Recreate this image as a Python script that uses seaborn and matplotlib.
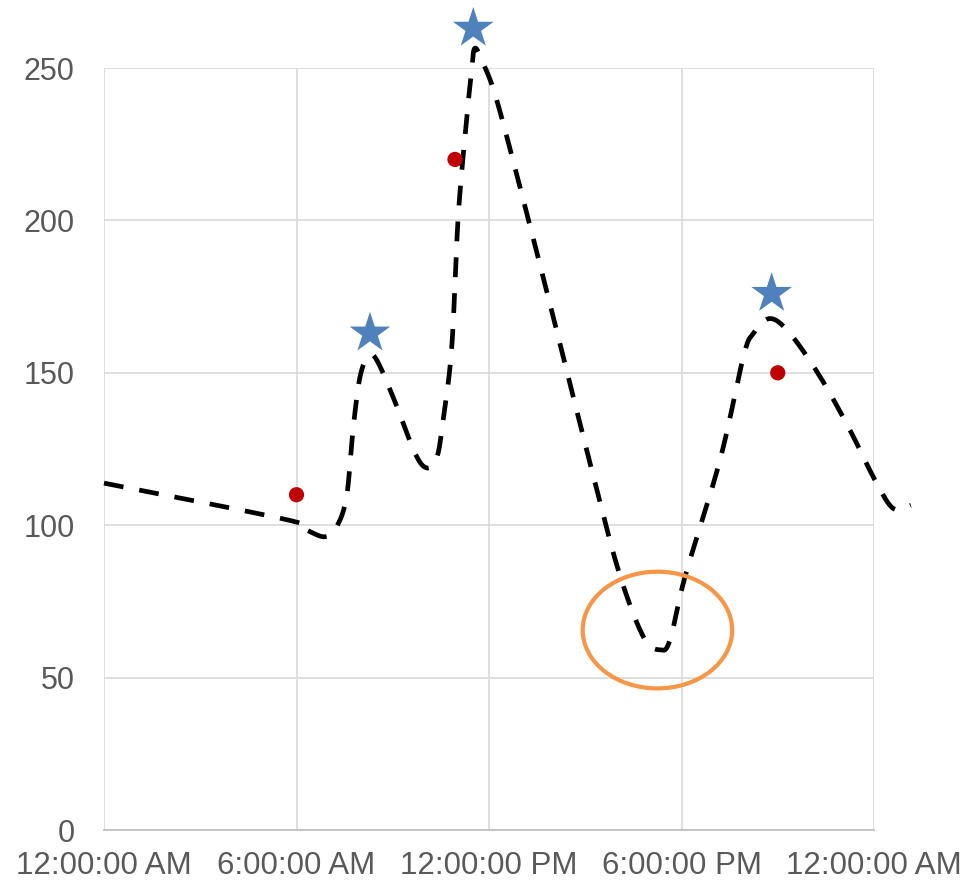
import numpy as np
import pandas as pd
import matplotlib
matplotlib.use("Agg")
import matplotlib.pyplot as plt
import seaborn as sns
from matplotlib.patches import Ellipse

# ---- data (hours since midnight, value) ----
curve_hours = [0, 5.74, 6.32, 6.89, 7.25, 7.56, 7.76, 7.98, 8.24, 8.5, 9.07, 9.69,
               10.06, 10.37, 10.57, 10.84, 11.04, 11.3, 11.46, 11.56, 11.82, 12.24,
               13.07, 14.0, 15.15, 16.03, 16.81, 17.33, 17.64, 18.11, 19.2, 19.93,
               20.24, 20.76, 21.38, 22.32, 23.25, 24.03, 24.6, 25.15]
curve_values = [113.8, 101.7, 98.4, 96.2, 99.5, 109.3, 131.2, 148.7, 155.3, 154.2, 140.5, 123.7,
                118.8, 122.0, 134.5, 158.6, 201.2, 232.9, 249.3, 256.5, 251.5, 239.5,
                206.7, 168.4, 120.3, 85.3, 63.4, 59.1, 62.3, 83.1, 121.4, 155.3,
                162.9, 167.8, 162.9, 148.7, 131.2, 114.8, 105.5, 106.5]

dot_hours = [6.0, 10.94, 21.0]
dot_values = [110, 220, 150]

star_hours = [8.29, 11.51, 20.81]
star_values = [163, 263, 176]

tick_hours = [0, 6, 12, 18, 24]
tick_labels = ["12:00:00 AM", "6:00:00 AM", "12:00:00 PM", "6:00:00 PM", "12:00:00 AM"]
y_ticks = [0, 50, 100, 150, 200, 250]

ellipse_center = (17.25, 65.6)
ellipse_size = (4.66, 38.3)


def smooth(xs, ys, n=30):
    """Excel-style smoothed line (Bezier through every point)."""
    P = np.column_stack([xs, ys]).astype(float)
    out = []
    m = len(P)
    for i in range(m - 1):
        p0 = P[i - 1] if i > 0 else P[i]
        p1 = P[i]
        p2 = P[i + 1]
        p3 = P[i + 2] if i + 2 < m else P[i + 1]
        c1 = p1 + (p2 - p0) / 6.0
        c2 = p2 - (p3 - p1) / 6.0
        t = np.linspace(0, 1, n)[:, None]
        seg = ((1 - t) ** 3) * p1 + 3 * ((1 - t) ** 2) * t * c1 + 3 * (1 - t) * t ** 2 * c2 + t ** 3 * p2
        if i > 0:
            seg = seg[1:]
        out.append(seg)
    return np.vstack(out)


sns.set_theme(style="whitegrid")
plt.rcParams["font.family"] = ["Liberation Sans", "DejaVu Sans"]

fig = plt.figure(figsize=(9.8, 8.82), dpi=100)
ax = fig.add_axes([104 / 980, 52 / 882, 770 / 980, 762 / 882])
ax.set_facecolor("white")

sm = smooth(curve_hours, curve_values)
curve_df = pd.DataFrame({"hour": sm[:, 0], "value": sm[:, 1]})
sns.lineplot(data=curve_df, x="hour", y="value", ax=ax, color="black", lw=3.4,
             sort=False, estimator=None, clip_on=False, zorder=3)
ax.lines[-1].set_linestyle((0, (4.2, 3.4)))
ax.lines[-1].set_dash_capstyle("butt")

dots_df = pd.DataFrame({"hour": dot_hours, "value": dot_values})
sns.scatterplot(data=dots_df, x="hour", y="value", ax=ax, color="#C00000", s=120,
                edgecolor="none", clip_on=False, zorder=4)

stars_df = pd.DataFrame({"hour": star_hours, "value": star_values})
sns.scatterplot(data=stars_df, x="hour", y="value", ax=ax, color="#4F81BD", marker="*",
                s=950, edgecolor="none", clip_on=False, zorder=4)

ax.add_patch(Ellipse(ellipse_center, ellipse_size[0], ellipse_size[1], fill=False,
                     edgecolor="#F79646", lw=3.0, zorder=5, clip_on=False))

ax.set_xlim(0, 24)
ax.set_ylim(0, 250)
ax.set_xticks(tick_hours)
ax.set_xticklabels(tick_labels)
ax.set_yticks(y_ticks)
ax.set_xlabel("")
ax.set_ylabel("")
ax.grid(True, color="#D9D9D9", lw=1.2)
ax.tick_params(axis="both", colors="#595959", length=0)
ax.tick_params(axis="x", labelsize=22.5, pad=15)
ax.tick_params(axis="y", labelsize=22, pad=21)
for side in ["top", "right", "left"]:
    ax.spines[side].set_visible(False)
ax.spines["bottom"].set_color("#BFBFBF")
ax.spines["bottom"].set_linewidth(1.3)

fig.savefig("out.png", dpi=100, facecolor="white")
